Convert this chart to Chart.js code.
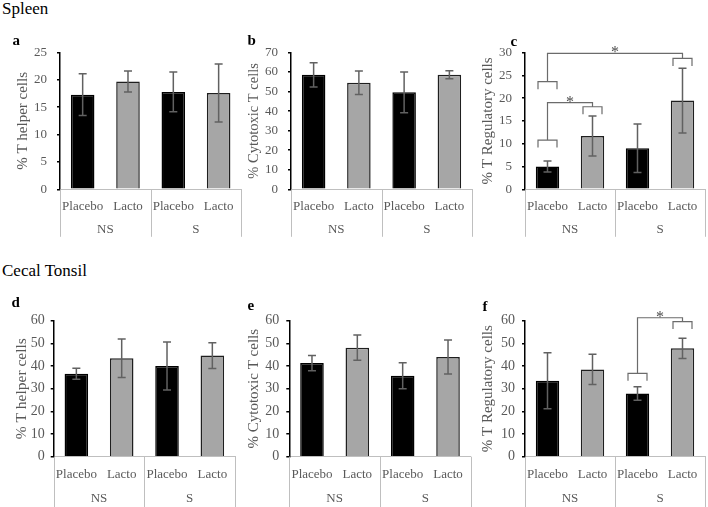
<!DOCTYPE html>
<html>
<head>
<meta charset="utf-8">
<script src="https://cdn.jsdelivr.net/npm/chart.js@4/dist/chart.umd.min.js"></script>
<style>
  body { margin: 0; background: #fff; width: 708px; height: 507px; position: relative; overflow: hidden; }
  canvas { position: absolute; }
  .section { position: absolute; left: 2px; font: 17px "Liberation Serif", serif; color: #000; line-height: 1; }
</style>
</head>
<body>
<div class="section" style="top:0px">Spleen</div>
<div class="section" style="top:262px">Cecal Tonsil</div>
<canvas id="chartA" width="243" height="212" style="left:0px;top:30px"></canvas>
<canvas id="chartB" width="232" height="212" style="left:243px;top:30px"></canvas>
<canvas id="chartC" width="233" height="212" style="left:475px;top:30px"></canvas>
<canvas id="chartD" width="240" height="212" style="left:0px;top:295px"></canvas>
<canvas id="chartE" width="235" height="212" style="left:240px;top:295px"></canvas>
<canvas id="chartF" width="233" height="212" style="left:475px;top:295px"></canvas>
<script>
const groups = ['NS', 'S'];
const treatments = ['Placebo', 'Lacto', 'Placebo', 'Lacto'];

// Spleen
const spleenHelper = [17.3, 19.7, 17.8, 17.6];
const spleenHelperErr = [3.8, 1.9, 3.65, 5.3];
const spleenCytotoxic = [58.6, 54.5, 49.6, 58.6];
const spleenCytotoxicErr = [6.2, 6.0, 10.4, 2.0];
const spleenTreg = [5.0, 11.7, 9.0, 19.45];
const spleenTregErr = [1.2, 4.4, 5.3, 7.1];

// Cecal tonsil
const cecalHelper = [36.6, 43.4, 40.0, 44.6];
const cecalHelperErr = [2.4, 8.5, 10.6, 5.7];
const cecalCytotoxic = [41.3, 48.1, 35.7, 44.0];
const cecalCytotoxicErr = [3.4, 5.6, 5.7, 7.5];
const cecalTreg = [33.5, 38.5, 27.9, 47.8];
const cecalTregErr = [12.4, 6.7, 3.0, 4.5];

// significance brackets (bar index, bracket heights in axis units)
const spleenTregSig = [
  { from: 0, to: 1, fromAt: 10.8, toAt: 18.1, top: 19.0 },
  { from: 0, to: 3, fromAt: 23.6, toAt: 28.7, top: 29.8 }
];
const cecalTregSig = [
  { from: 2, to: 3, fromAt: 36.8, toAt: 59.6, top: 61.3 }
];

const SERIF = '"Liberation Serif", "Times New Roman", serif';
const GREY = '#595959';

const panelDecor = {
  id: 'panelDecor',
  afterDraw(chart) {
    const o = chart.options.plugins.panelDecor;
    const { ctx, chartArea, scales: { x, y } } = chart;
    const vals = chart.data.datasets[0].data;
    ctx.save();

    // error bars
    ctx.strokeStyle = '#616161';
    ctx.lineWidth = 1.5;
    o.errors.forEach((e, i) => {
      const px = x.getPixelForValue(i);
      const hi = y.getPixelForValue(vals[i] + e);
      const lo = y.getPixelForValue(vals[i] - e);
      ctx.beginPath();
      ctx.moveTo(px, hi); ctx.lineTo(px, lo);
      ctx.moveTo(px - 4, hi); ctx.lineTo(px + 4, hi);
      ctx.moveTo(px - 4, lo); ctx.lineTo(px + 4, lo);
      ctx.stroke();
    });

    // multi-level category axis
    const base = chartArea.bottom;
    ctx.strokeStyle = '#bfbfbf';
    ctx.lineWidth = 1;
    [-0.5, 1.5, 3.5].forEach(v => {
      const px = Math.round(x.getPixelForValue(v)) + 0.5;
      ctx.beginPath();
      ctx.moveTo(px, base); ctx.lineTo(px, base + o.bandDepth);
      ctx.stroke();
    });
    ctx.fillStyle = GREY;
    ctx.font = '13px ' + SERIF;
    ctx.textAlign = 'center';
    ctx.textBaseline = 'alphabetic';
    treatments.forEach((t, i) => ctx.fillText(t, x.getPixelForValue(i), base + o.labelGap));
    groups.forEach((g, i) => ctx.fillText(g, x.getPixelForValue(i * 2 + 0.5), base + o.groupGap));

    // significance brackets
    ctx.strokeStyle = '#6b6b6b';
    ctx.lineWidth = 1.2;
    (o.sig || []).forEach(s => {
      const xa = x.getPixelForValue(s.from), xb = x.getPixelForValue(s.to);
      const ya = y.getPixelForValue(s.fromAt), yb = y.getPixelForValue(s.toAt);
      const yt = y.getPixelForValue(s.top);
      ctx.beginPath();
      [[xa, ya], [xb, yb]].forEach(([cx, cy]) => {
        ctx.moveTo(cx - 9.5, cy + 7.5); ctx.lineTo(cx - 9.5, cy);
        ctx.lineTo(cx + 9.5, cy); ctx.lineTo(cx + 9.5, cy + 7.5);
      });
      ctx.moveTo(xa, ya); ctx.lineTo(xa, yt); ctx.lineTo(xb, yt); ctx.lineTo(xb, yb);
      ctx.stroke();
      ctx.fillStyle = '#4d4d4d';
      ctx.font = '16px ' + SERIF;
      ctx.fillText('*', (xa + xb) / 2, yt + 4);
    });

    // panel letter
    ctx.fillStyle = '#000';
    ctx.font = 'bold 15px ' + SERIF;
    ctx.textAlign = 'left';
    ctx.fillText(o.letter, o.letterX, o.letterY);
    ctx.restore();
  }
};

function makePanel(id, box, area, values, errors, opts) {
  return new Chart(document.getElementById(id), {
    type: 'bar',
    data: {
      labels: treatments,
      datasets: [{
        data: values,
        backgroundColor: ['#000000', '#a6a6a6', '#000000', '#a6a6a6'],
        borderColor: ['#000000', '#1f1f1f', '#000000', '#1f1f1f'],
        borderWidth: 1.5,
        barPercentage: 0.52,
        categoryPercentage: 1
      }]
    },
    options: {
      responsive: false,
      animation: false,
      devicePixelRatio: 1,
      layout: {
        padding: { left: 0, bottom: 0, top: area.t - box.y, right: box.x + box.w - area.r }
      },
      plugins: {
        legend: { display: false },
        tooltip: { enabled: false },
        panelDecor: {
          errors: errors,
          sig: opts.sig,
          letter: opts.letter,
          letterX: opts.letterX,
          letterY: opts.letterY,
          labelGap: opts.labelGap,
          groupGap: opts.groupGap,
          bandDepth: opts.bandDepth
        }
      },
      scales: {
        x: {
          grid: { display: false },
          border: { color: '#bfbfbf', width: 1 },
          ticks: { display: false },
          afterFit: s => { s.height = box.y + box.h - area.b; }
        },
        y: {
          min: 0,
          max: opts.max,
          ticks: {
            stepSize: opts.step,
            color: GREY,
            padding: opts.tickPad,
            font: { family: SERIF, size: opts.tickSize }
          },
          grid: { drawOnChartArea: false, drawTicks: true, tickLength: 3, color: '#000', lineWidth: 1.5 },
          border: { color: '#000', width: 1.5 },
          title: {
            display: true,
            text: opts.title,
            color: GREY,
            font: { family: SERIF, size: opts.titleSize },
            padding: { top: opts.titleX - opts.titleSize * 0.6, bottom: 0 }
          },
          afterFit: s => { s.width = area.l - box.x; }
        }
      }
    },
    plugins: [panelDecor]
  });
}

const topBand = { labelGap: 20.3, groupGap: 43.8, bandDepth: 47.5, tickSize: 13, tickPad: 10 };
const botBand = { labelGap: 21.3, groupGap: 44.8, bandDepth: 52, tickSize: 14, tickPad: 6 };

makePanel('chartA', { x: 0, y: 30, w: 243, h: 212 }, { l: 60, t: 52.5, r: 241.3, b: 189.3 },
  spleenHelper, spleenHelperErr,
  Object.assign({ max: 25, step: 5, title: '% T helper cells', titleSize: 15, titleX: 23.5,
    letter: 'a', letterX: 12.5, letterY: 15 }, topBand));

makePanel('chartB', { x: 243, y: 30, w: 232, h: 212 }, { l: 291, t: 52.5, r: 472, b: 189.3 },
  spleenCytotoxic, spleenCytotoxicErr,
  Object.assign({ max: 70, step: 10, title: '% Cytotoxic T cells', titleSize: 14.5, titleX: 11,
    letter: 'b', letterX: 4.5, letterY: 15 }, topBand));

makePanel('chartC', { x: 475, y: 30, w: 233, h: 212 }, { l: 525, t: 52.5, r: 705, b: 189.3 },
  spleenTreg, spleenTregErr,
  Object.assign({ max: 30, step: 5, title: '% T Regulatory cells', titleSize: 15, titleX: 13.5,
    letter: 'c', letterX: 35.5, letterY: 16, sig: spleenTregSig }, topBand));

makePanel('chartD', { x: 0, y: 295, w: 240, h: 212 }, { l: 53.7, t: 320.7, r: 235, b: 456.7 },
  cecalHelper, cecalHelperErr,
  Object.assign({ max: 60, step: 10, title: '% T helper cells', titleSize: 15.5, titleX: 22,
    letter: 'd', letterX: 11.5, letterY: 11.7 }, botBand, { tickPad: 6 }));

makePanel('chartE', { x: 240, y: 295, w: 235, h: 212 }, { l: 289.3, t: 320.7, r: 470.7, b: 456.7 },
  cecalCytotoxic, cecalCytotoxicErr,
  Object.assign({ max: 60, step: 10, title: '% Cytotoxic T cells', titleSize: 15, titleX: 14,
    letter: 'e', letterX: 7.5, letterY: 15 }, botBand, { tickPad: 7 }));

makePanel('chartF', { x: 475, y: 295, w: 233, h: 212 }, { l: 525, t: 320.7, r: 705, b: 456.7 },
  cecalTreg, cecalTregErr,
  Object.assign({ max: 60, step: 10, title: '% T Regulatory cells', titleSize: 15, titleX: 13.5,
    letter: 'f', letterX: 7.5, letterY: 15.5, sig: cecalTregSig }, botBand, { tickPad: 7 }));
</script>
</body>
</html>
